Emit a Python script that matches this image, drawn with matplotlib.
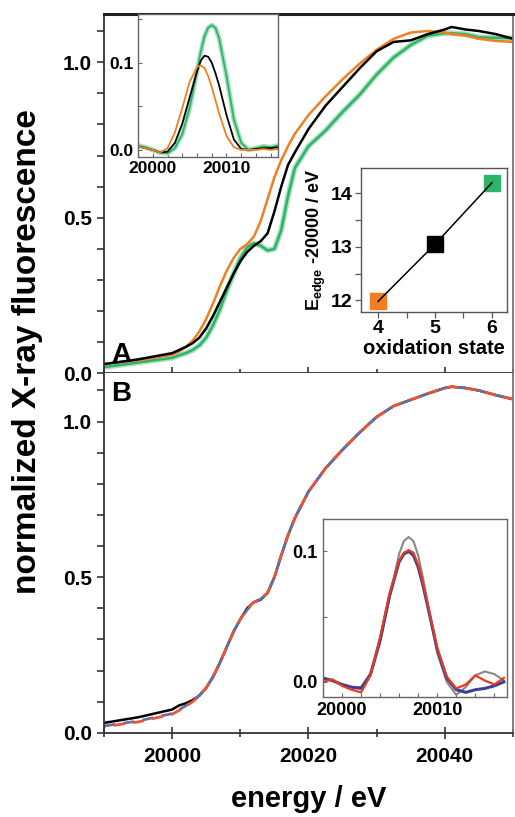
import matplotlib
matplotlib.use('Agg')
import matplotlib.pyplot as plt
from matplotlib.ticker import MultipleLocator, FormatStrFormatter

plt.rcParams['font.family'] = ['Liberation Sans', 'DejaVu Sans']
plt.rcParams['font.weight'] = 'bold'
plt.rcParams['mathtext.fontset'] = 'custom'
plt.rcParams['mathtext.bf'] = 'Liberation Sans:bold'
plt.rcParams['mathtext.rm'] = 'Liberation Sans:bold'

# Panel A: normalized spectra (energy in eV)
energy_A = [19990, 19995, 20000, 20001, 20002, 20003, 20004, 20005, 20006, 20007, 20008, 20009,
            20010, 20011, 20012, 20013, 20014, 20015, 20016, 20017, 20018, 20020, 20022.5, 20025,
            20027.5, 20030, 20032.5, 20035, 20037.5, 20040, 20041, 20043, 20045, 20047.5, 20050]
mo4 = [0.030, 0.042, 0.060, 0.070, 0.085, 0.105, 0.135, 0.175, 0.225, 0.28, 0.33, 0.37,
       0.40, 0.415, 0.44, 0.49, 0.56, 0.63, 0.685, 0.73, 0.77, 0.83, 0.89, 0.945,
       0.995, 1.04, 1.075, 1.095, 1.10, 1.095, 1.09, 1.085, 1.075, 1.068, 1.065]
mo5 = [0.030, 0.045, 0.065, 0.075, 0.085, 0.097, 0.115, 0.145, 0.185, 0.23, 0.275, 0.32,
       0.36, 0.39, 0.41, 0.425, 0.45, 0.52, 0.60, 0.67, 0.71, 0.785, 0.86, 0.92,
       0.98, 1.035, 1.065, 1.07, 1.09, 1.105, 1.113, 1.105, 1.10, 1.09, 1.075]
mo6 = [0.020, 0.035, 0.050, 0.058, 0.065, 0.075, 0.090, 0.115, 0.155, 0.205, 0.265, 0.32,
       0.37, 0.405, 0.418, 0.41, 0.395, 0.40, 0.46, 0.57, 0.66, 0.73, 0.78, 0.84,
       0.895, 0.96, 1.015, 1.055, 1.085, 1.093, 1.093, 1.09, 1.08, 1.078, 1.077]

# Inset A1: pre-edge peaks
energy_pre = [19998, 19999, 20000, 20001, 20002, 20003, 20004, 20005, 20006, 20006.5, 20007, 20007.5,
              20008, 20008.5, 20009, 20010, 20011, 20012, 20013, 20014, 20015, 20016, 20017]
pre_mo4 = [0.004, 0.002, 0.000, -0.003, 0.002, 0.020, 0.048, 0.078, 0.095, 0.097, 0.094, 0.085,
           0.072, 0.057, 0.042, 0.016, 0.003, 0.000, 0.000, 0.000, 0.001, 0.000, 0.001]
pre_mo5 = [0.004, 0.002, 0.000, -0.003, -0.002, 0.008, 0.030, 0.060, 0.090, 0.102, 0.108, 0.107,
           0.100, 0.088, 0.074, 0.040, 0.012, 0.001, 0.000, 0.001, 0.002, 0.002, 0.003]
pre_mo6 = [0.005, 0.003, 0.000, -0.003, -0.004, 0.002, 0.018, 0.048, 0.090, 0.112, 0.130, 0.140,
           0.143, 0.140, 0.128, 0.085, 0.035, 0.008, 0.000, 0.002, 0.004, 0.003, 0.005]

# Inset A2: edge position vs oxidation state
ox_state = [4, 5, 6]
e_edge = [11.98, 13.05, 14.2]
ox_colors = ['#f07f22', '#000000', '#2fb36a']

# Panel B: experimental spectrum and two fits
spec_B = [0.032, 0.050, 0.075, 0.088, 0.095, 0.105, 0.12, 0.145, 0.18, 0.225, 0.275, 0.325,
          0.365, 0.40, 0.42, 0.428, 0.45, 0.50, 0.57, 0.635, 0.69, 0.775, 0.85, 0.91,
          0.965, 1.015, 1.05, 1.07, 1.09, 1.108, 1.112, 1.108, 1.10, 1.085, 1.072]
fit_red = [0.020, 0.035, 0.060, 0.072, 0.085, 0.100, 0.12, 0.145, 0.18, 0.225, 0.275, 0.325,
           0.365, 0.40, 0.42, 0.428, 0.45, 0.50, 0.57, 0.635, 0.69, 0.775, 0.85, 0.91,
           0.965, 1.015, 1.05, 1.07, 1.09, 1.108, 1.112, 1.108, 1.10, 1.085, 1.072]
fit_blue = [0.022, 0.038, 0.062, 0.074, 0.087, 0.101, 0.12, 0.145, 0.18, 0.225, 0.275, 0.325,
            0.365, 0.395, 0.42, 0.43, 0.45, 0.50, 0.57, 0.635, 0.69, 0.775, 0.85, 0.91,
            0.965, 1.015, 1.05, 1.07, 1.09, 1.108, 1.112, 1.108, 1.10, 1.085, 1.072]

# Inset B: pre-edge peak, experiment and fits
pre_B_gray = [0.003, 0.001, -0.002, -0.004, -0.004, 0.005, 0.030, 0.065, 0.098, 0.108, 0.111, 0.108,
              0.097, 0.080, 0.060, 0.022, 0.000, -0.010, -0.004, 0.005, 0.008, 0.006, 0.001]
pre_B_blue = [0.003, 0.001, -0.002, -0.004, -0.005, 0.006, 0.032, 0.066, 0.092, 0.098, 0.100, 0.097,
              0.088, 0.074, 0.058, 0.025, 0.003, -0.006, -0.008, -0.006, -0.005, -0.003, 0.000]
pre_B_red = [0.000, 0.002, -0.003, -0.006, -0.008, 0.005, 0.034, 0.068, 0.093, 0.099, 0.101, 0.099,
             0.090, 0.076, 0.060, 0.026, 0.004, -0.005, -0.002, 0.005, 0.001, -0.002, 0.003]

fig = plt.figure(figsize=(5.15, 8.17), dpi=100)
axA = fig.add_axes([0.202, 0.543, 0.794, 0.44])
axB = fig.add_axes([0.202, 0.103, 0.794, 0.44])

for ax in (axA, axB):
    ax.set_xlim(19990, 20050)
    ax.set_ylim(0, 1.155)
    ax.yaxis.set_major_locator(MultipleLocator(0.5))
    ax.yaxis.set_minor_locator(MultipleLocator(0.1))
    ax.yaxis.set_major_formatter(FormatStrFormatter('%.1f'))
    ax.xaxis.set_major_locator(MultipleLocator(20))
    ax.xaxis.set_minor_locator(MultipleLocator(10))
    ax.tick_params(axis='y', which='both', direction='out', length=5, width=1.2,
                   labelsize=15, color='#333333')
    ax.tick_params(axis='x', which='major', direction='inout', length=9, width=1.2, color='#333333')
    ax.tick_params(axis='x', which='minor', direction='inout', length=6, width=1.2, color='#333333')
    for s in ax.spines.values():
        s.set_color('#333333')
        s.set_linewidth(1.3)
    ax.spines['right'].set_color('#777777')
axA.spines['top'].set_linewidth(2.2)
axA.spines['top'].set_color('#222222')
axA.tick_params(axis='x', labelbottom=False)
axB.spines['top'].set_visible(False)
axB.tick_params(axis='x', labelsize=15, pad=6)
axB.set_xticks([20000, 20020, 20040])

axA.plot(energy_A, mo6, color='#a8dfbc', lw=4.0, solid_capstyle='round')
axA.plot(energy_A, mo6, color='#2fb36a', lw=1.8)
axA.plot(energy_A, mo4, color='#f07f22', lw=1.8)
axA.plot(energy_A, mo5, color='black', lw=1.8)
axA.text(19991.1, 0.035, 'A', fontsize=20, fontweight='bold')

axB.plot(energy_A, spec_B, color='black', lw=1.8)
axB.plot(energy_A, fit_blue, color='#6a6f9e', lw=2.0, linestyle=(0, (4, 3)))
axB.plot(energy_A, fit_red, color='#e8553a', lw=2.0, linestyle=(3.5, (4, 3)))
axB.text(19991.1, 1.065, 'B', fontsize=20, fontweight='bold')

fig.text(0.054, 0.57, 'normalized X-ray fluorescence', rotation=90, fontsize=24,
         fontweight='bold', ha='center', va='center')
fig.text(0.6, 0.022, 'energy / eV', fontsize=21, fontweight='bold', ha='center', va='center')

# inset A1
ins1 = fig.add_axes([0.268, 0.808, 0.272, 0.175])
ins1.plot(energy_pre, pre_mo6, color='#a8dfbc', lw=3.5)
ins1.plot(energy_pre, pre_mo6, color='#2fb36a', lw=1.3)
ins1.plot(energy_pre, pre_mo5, color='black', lw=1.3)
ins1.plot(energy_pre, pre_mo4, color='#f07f22', lw=1.3)
ins1.set_xlim(19998, 20017)
ins1.set_ylim(-0.008, 0.156)
ins1.set_xticks([20000, 20010])
ins1.set_yticks([0.0, 0.1])
ins1.yaxis.set_major_formatter(FormatStrFormatter('%.1f'))
ins1.xaxis.set_minor_locator(MultipleLocator(2))
ins1.yaxis.set_minor_locator(MultipleLocator(0.05))
ins1.tick_params(which='both', direction='in', length=3, width=0.8, labelsize=12.5,
                 color='#666666', pad=3)
for s in ins1.spines.values():
    s.set_color('#666666')
    s.set_linewidth(1.0)

# inset A2
ins2 = fig.add_axes([0.701, 0.618, 0.283, 0.176])
for xo, ye, c in zip(ox_state, e_edge, ox_colors):
    ins2.plot(xo, ye, marker='s', ms=11, color=c, mec=c, zorder=2)
ins2.plot(ox_state, e_edge, color='black', lw=1.1, zorder=3)
ins2.set_xlim(3.7, 6.26)
ins2.set_ylim(11.78, 14.47)
ins2.set_xticks([4, 5, 6])
ins2.set_yticks([12, 13, 14])
ins2.xaxis.set_minor_locator(MultipleLocator(0.5))
ins2.yaxis.set_minor_locator(MultipleLocator(0.5))
ins2.tick_params(which='both', direction='out', length=4, width=0.9, labelsize=14,
                 color='#555555', pad=2)
ins2.set_xlabel('oxidation state', fontsize=14.5, fontweight='bold', labelpad=1)
ins2.set_ylabel(r'$\mathbf{E_{edge}}$ -20000 / eV', fontsize=13, fontweight='bold', labelpad=2)
for s in ins2.spines.values():
    s.set_color('#555555')
    s.set_linewidth(1.0)

# inset B
ins3 = fig.add_axes([0.627, 0.147, 0.357, 0.218])
ins3.plot(energy_pre, pre_B_gray, color='#888888', lw=1.5)
ins3.plot(energy_pre, pre_B_blue, color='#3a3f9a', lw=2.2)
ins3.plot(energy_pre, pre_B_red, color='#e83a1e', lw=1.6)
ins3.set_xlim(19998, 20017.3)
ins3.set_ylim(-0.0115, 0.125)
ins3.set_xticks([20000, 20010])
ins3.set_yticks([0.0, 0.1])
ins3.yaxis.set_major_formatter(FormatStrFormatter('%.1f'))
ins3.xaxis.set_minor_locator(MultipleLocator(2))
ins3.yaxis.set_minor_locator(MultipleLocator(0.05))
ins3.tick_params(which='both', direction='in', length=3, width=0.8, labelsize=13,
                 color='#666666', pad=4)
for s in ins3.spines.values():
    s.set_color('#666666')
    s.set_linewidth(1.0)

fig.savefig('out.png', dpi=100)
